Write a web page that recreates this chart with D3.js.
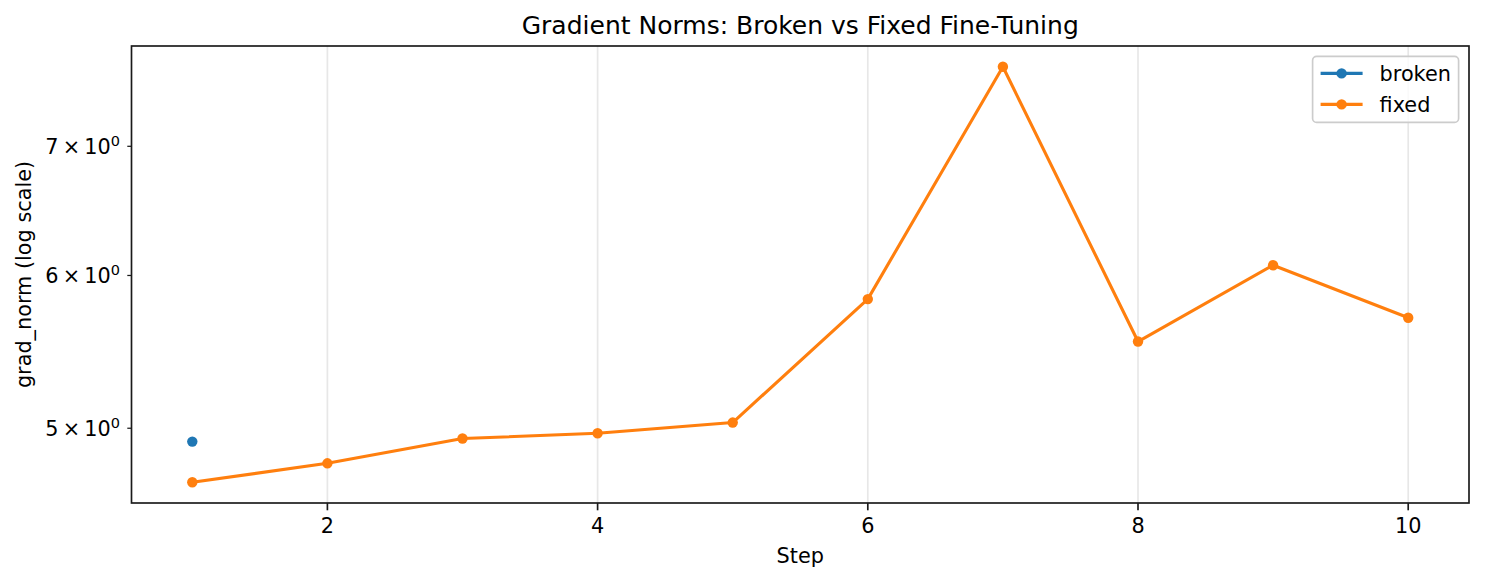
<!DOCTYPE html>
<html>
<head>
<meta charset="utf-8">
<script src="https://cdn.jsdelivr.net/npm/d3@7"></script>
<style>
  html, body { margin: 0; padding: 0; background: #fff; }
  svg { display: block; font-family: "DejaVu Sans", sans-serif; }
</style>
</head>
<body>
<div id="chart"></div>
<script>
const width = 1485;
const height = 582;
const margin = { top: 46, right: 16, bottom: 79, left: 131.5 };

// data
const steps = [1, 2, 3, 4, 5, 6, 7, 8, 9, 10];
const fixedNorm = [4.688, 4.795, 4.939, 4.970, 5.034, 5.833, 7.697, 5.545, 6.074, 5.705];
const brokenSteps = [1];
const brokenNorm = [4.921];
const xTicks = [2, 4, 6, 8, 10];
const yTicks = [5, 6, 7];
const seriesNames = ["broken", "fixed"];
const seriesColors = ["#1f77b4", "#ff7f0e"];

const fixed = steps.map((s, i) => ({ step: s, value: fixedNorm[i] }));
const broken = brokenSteps.map((s, i) => ({ step: s, value: brokenNorm[i] }));

const svg = d3.select("#chart")
  .append("svg")
  .attr("width", width)
  .attr("height", height);

// scales with matplotlib-like 5% margins
const xExt = d3.extent(steps);
const xPad = (xExt[1] - xExt[0]) * 0.05;
const xScale = d3.scaleLinear()
  .domain([xExt[0] - xPad, xExt[1] + xPad])
  .range([margin.left, width - margin.right]);

const allVals = fixedNorm.concat(brokenNorm).map(Math.log10);
const lMin = d3.min(allVals), lMax = d3.max(allVals);
const lPad = (lMax - lMin) * 0.05;
const yScale = d3.scaleLog()
  .domain([Math.pow(10, lMin - lPad), Math.pow(10, lMax + lPad)])
  .range([height - margin.bottom, margin.top]);

const x0 = margin.left, x1 = width - margin.right;
const y0 = height - margin.bottom, y1 = margin.top;

// grid (vertical only)
svg.append("g")
  .selectAll("line")
  .data(xTicks)
  .join("line")
  .attr("x1", d => xScale(d))
  .attr("x2", d => xScale(d))
  .attr("y1", y1)
  .attr("y2", y0)
  .attr("stroke", "#b0b0b0")
  .attr("stroke-opacity", 0.3)
  .attr("stroke-width", 1.67);

// lines
const line = d3.line()
  .x(d => xScale(d.step))
  .y(d => yScale(d.value));

const series = [broken, fixed];
series.forEach((data, i) => {
  svg.append("path")
    .datum(data)
    .attr("d", line)
    .attr("fill", "none")
    .attr("stroke", seriesColors[i])
    .attr("stroke-width", 3.1)
    .attr("stroke-linejoin", "round")
    .attr("stroke-linecap", "square");
  svg.append("g")
    .selectAll("circle")
    .data(data)
    .join("circle")
    .attr("cx", d => xScale(d.step))
    .attr("cy", d => yScale(d.value))
    .attr("r", 5.2)
    .attr("fill", seriesColors[i]);
});

// spines
svg.append("rect")
  .attr("x", x0)
  .attr("y", y1)
  .attr("width", x1 - x0)
  .attr("height", y0 - y1)
  .attr("fill", "none")
  .attr("stroke", "#1a1a1a")
  .attr("stroke-width", 1.67);

// X axis
const xAxis = svg.append("g");
xAxis.selectAll("line")
  .data(xTicks)
  .join("line")
  .attr("x1", d => xScale(d))
  .attr("x2", d => xScale(d))
  .attr("y1", y0)
  .attr("y2", y0 + 7.3)
  .attr("stroke", "#1a1a1a")
  .attr("stroke-width", 1.67);
xAxis.selectAll("text")
  .data(xTicks)
  .join("text")
  .attr("x", d => xScale(d))
  .attr("y", y0 + 7.3 + 7.3 + 15.5)
  .attr("text-anchor", "middle")
  .attr("font-size", "20.8px")
  .attr("fill", "#000")
  .text(d => d);

svg.append("text")
  .attr("x", (x0 + x1) / 2)
  .attr("y", 563)
  .attr("text-anchor", "middle")
  .attr("font-size", "20.8px")
  .text("Step");

// Y axis (minor ticks labelled as in matplotlib log axis)
const yAxis = svg.append("g");
yAxis.selectAll("line")
  .data(yTicks)
  .join("line")
  .attr("x1", x0 - 4.2)
  .attr("x2", x0)
  .attr("y1", d => yScale(d))
  .attr("y2", d => yScale(d))
  .attr("stroke", "#1a1a1a")
  .attr("stroke-width", 1.25);
const yLabels = yAxis.selectAll("text")
  .data(yTicks)
  .join("text")
  .attr("x", x0 - 4.2 - 7.3)
  .attr("y", d => yScale(d) + 7.5)
  .attr("text-anchor", "end")
  .attr("font-size", "20.8px");
yLabels.append("tspan").text(d => `${d}\u2009\u00d7\u200910`);
yLabels.append("tspan")
  .attr("font-size", "14.5px")
  .attr("dy", -8)
  .text("0");

svg.append("text")
  .attr("transform", `translate(31, ${(y0 + y1) / 2}) rotate(-90)`)
  .attr("text-anchor", "middle")
  .attr("font-size", "20.8px")
  .text("grad_norm (log scale)");

// title
svg.append("text")
  .attr("x", (x0 + x1) / 2)
  .attr("y", 33.5)
  .attr("text-anchor", "middle")
  .attr("font-size", "25px")
  .text("Gradient Norms: Broken vs Fixed Fine-Tuning");

// legend
const legend = svg.append("g")
  .attr("transform", `translate(${x1 - 10.4 - 146}, ${y1 + 10.4})`);
legend.append("rect")
  .attr("width", 146)
  .attr("height", 66)
  .attr("rx", 4)
  .attr("fill", "#fff")
  .attr("fill-opacity", 0.8)
  .attr("stroke", "#cccccc")
  .attr("stroke-width", 1.67);
const items = legend.selectAll(".item")
  .data(seriesNames)
  .join("g")
  .attr("class", "item")
  .attr("transform", (d, i) => `translate(0, ${17 + i * 31})`);
items.append("line")
  .attr("x1", 8)
  .attr("x2", 50)
  .attr("stroke", (d, i) => seriesColors[i])
  .attr("stroke-width", 3.1);
items.append("circle")
  .attr("cx", 29)
  .attr("r", 5.2)
  .attr("fill", (d, i) => seriesColors[i]);
items.append("text")
  .attr("x", 67)
  .attr("y", 7.5)
  .attr("font-size", "20.8px")
  .text(d => d);
</script>
</body>
</html>
